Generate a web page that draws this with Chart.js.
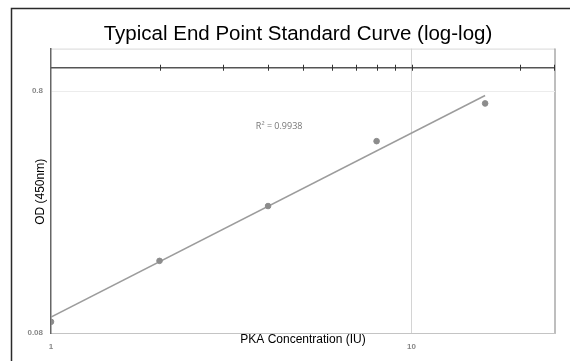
<!DOCTYPE html>
<html>
<head>
<meta charset="utf-8">
<script src="https://cdn.jsdelivr.net/npm/chart.js@4/dist/chart.umd.min.js"></script>
<style>
  html, body { margin: 0; padding: 0; background: #fff; }
  #wrap { width: 570px; height: 361px; position: relative; }
</style>
</head>
<body>
<div id="wrap"><canvas id="c"></canvas></div>
<script>
// ---- data ----
const concentrations = [1, 2, 4, 8, 16];            // PKA concentration (IU)
const odValues = [0.089, 0.159, 0.268, 0.497, 0.712]; // OD (450nm)
const trendX = [1, 16];                              // power trendline ends
const trendY = [0.093, 0.768];
const xTickLabels = [1, 10];
const yTickLabels = [0.08, 0.8];
const topAxisTicks = [2, 3, 4, 5, 6, 7, 8, 9, 10, 20];
const r2Text = 'R\u00B2 = 0.9938';
const chartTitle = 'Typical End Point Standard Curve (log-log)';
const xTitle = 'PKA Concentration (IU)';
const yTitle = 'OD (450nm)';

const FONT = "'Liberation Sans', Arial, sans-serif";

const decor = {
  id: 'decor',
  beforeDraw(chart) {
    const { ctx, chartArea: a } = chart;
    ctx.save();
    // outer border (left + top)
    ctx.strokeStyle = '#2a2a2a';
    ctx.lineWidth = 1.5;
    ctx.beginPath();
    ctx.moveTo(11.5, 361);
    ctx.lineTo(11.5, 8.5);
    ctx.lineTo(570, 8.5);
    ctx.stroke();
    // plot frame top / right
    ctx.strokeStyle = '#d8d8d8';
    ctx.lineWidth = 1;
    ctx.beginPath();
    ctx.moveTo(a.left, a.top + 0.5);
    ctx.lineTo(a.right, a.top + 0.5);
    ctx.stroke();
    ctx.strokeStyle = '#a8a8a8';
    ctx.lineWidth = 1.5;
    ctx.beginPath();
    ctx.moveTo(a.right, a.top);
    ctx.lineTo(a.right, a.bottom);
    ctx.stroke();
    ctx.restore();
  },
  beforeDatasetsDraw(chart) {
    const { ctx, chartArea: a, scales } = chart;
    const yv = scales.y.getPixelForValue(1);
    ctx.save();
    ctx.strokeStyle = '#555';
    ctx.lineWidth = 1.5;
    ctx.beginPath();
    ctx.moveTo(a.left, yv);
    ctx.lineTo(a.right, yv);
    ctx.stroke();
    ctx.strokeStyle = '#333';
    ctx.lineWidth = 1;
    topAxisTicks.forEach(v => {
      const px = Math.round(scales.x.getPixelForValue(v)) + 0.5;
      ctx.beginPath();
      ctx.moveTo(px, yv - 3);
      ctx.lineTo(px, yv + 3);
      ctx.stroke();
    });
    const pr = Math.round(a.right) - 0.5;
    ctx.beginPath();
    ctx.moveTo(pr, yv - 3);
    ctx.lineTo(pr, yv + 3);
    ctx.stroke();
    ctx.restore();
  },
  afterDraw(chart) {
    const { ctx, chartArea: a, scales } = chart;
    ctx.save();
    ctx.fillStyle = '#000';
    ctx.font = '12px ' + FONT;
    ctx.textAlign = 'center';
    ctx.textBaseline = 'middle';
    ctx.fillText(xTitle, (a.left + a.right) / 2, a.bottom + 7);
    ctx.save();
    ctx.translate(a.left - 10, (a.top + a.bottom) / 2 + 1);
    ctx.rotate(-Math.PI / 2);
    ctx.fillText(yTitle, 0, 0);
    ctx.restore();
    ctx.fillStyle = '#777';
    ctx.font = "9px 'Open Sans', sans-serif";
    ctx.textAlign = 'left';
    ctx.fillText(r2Text, scales.x.getPixelForValue(3.7), scales.y.getPixelForValue(0.572));
    ctx.restore();
  }
};

new Chart(document.getElementById('c'), {
  type: 'scatter',
  data: {
    datasets: [
      {
        label: 'Trend',
        data: trendX.map((x, i) => ({ x, y: trendY[i] })),
        showLine: true,
        borderColor: '#9c9c9c',
        borderWidth: 1.5,
        pointRadius: 0,
        order: 2
      },
      {
        label: 'OD',
        data: concentrations.map((x, i) => ({ x, y: odValues[i] })),
        backgroundColor: '#8c8c8c',
        borderColor: '#8c8c8c',
        pointRadius: 2.8,
        order: 1
      }
    ]
  },
  options: {
    responsive: true,
    maintainAspectRatio: false,
    animation: false,
    layout: { padding: { left: 26, right: 0, top: 0, bottom: 0 } },
    plugins: {
      legend: { display: false },
      tooltip: { enabled: false },
      title: {
        display: true,
        text: chartTitle,
        color: '#000',
        font: { family: FONT, size: 20.5, weight: 'normal' },
        padding: { top: 22, bottom: 2 }
      }
    },
    scales: {
      x: {
        type: 'logarithmic',
        min: 1,
        max: 25,
        afterBuildTicks: s => { s.ticks = xTickLabels.map(v => ({ value: v })); },
        afterFit: s => { s.height = 28; },
        ticks: {
          callback: v => String(v),
          color: '#888',
          font: { family: FONT, size: 8, weight: 'bold' },
          padding: 9,
          maxRotation: 0,
          autoSkip: false
        },
        grid: {
          drawTicks: false,
          color: c => (c.tick && c.tick.value === 10) ? '#d4d4d4' : 'rgba(0,0,0,0)'
        },
        border: { color: '#c4c4c4', width: 1 }
      },
      y: {
        type: 'logarithmic',
        min: 0.08,
        max: 1.2,
        afterBuildTicks: s => { s.ticks = yTickLabels.map(v => ({ value: v })); },
        afterFit: s => { s.width = 25; },
        ticks: {
          callback: v => String(v),
          color: '#888',
          font: { family: FONT, size: 8, weight: 'bold' },
          padding: 8,
          autoSkip: false
        },
        grid: {
          drawTicks: false,
          color: c => (c.tick && c.tick.value === 0.8) ? '#ececec' : 'rgba(0,0,0,0)'
        },
        border: { color: '#666', width: 1.5 }
      },
      yRight: {
        type: 'linear',
        position: 'right',
        display: true,
        afterFit: s => { s.width = 15; },
        ticks: { display: false },
        grid: { display: false, drawTicks: false },
        border: { display: false }
      }
    }
  },
  plugins: [decor]
});
</script>
</body>
</html>
